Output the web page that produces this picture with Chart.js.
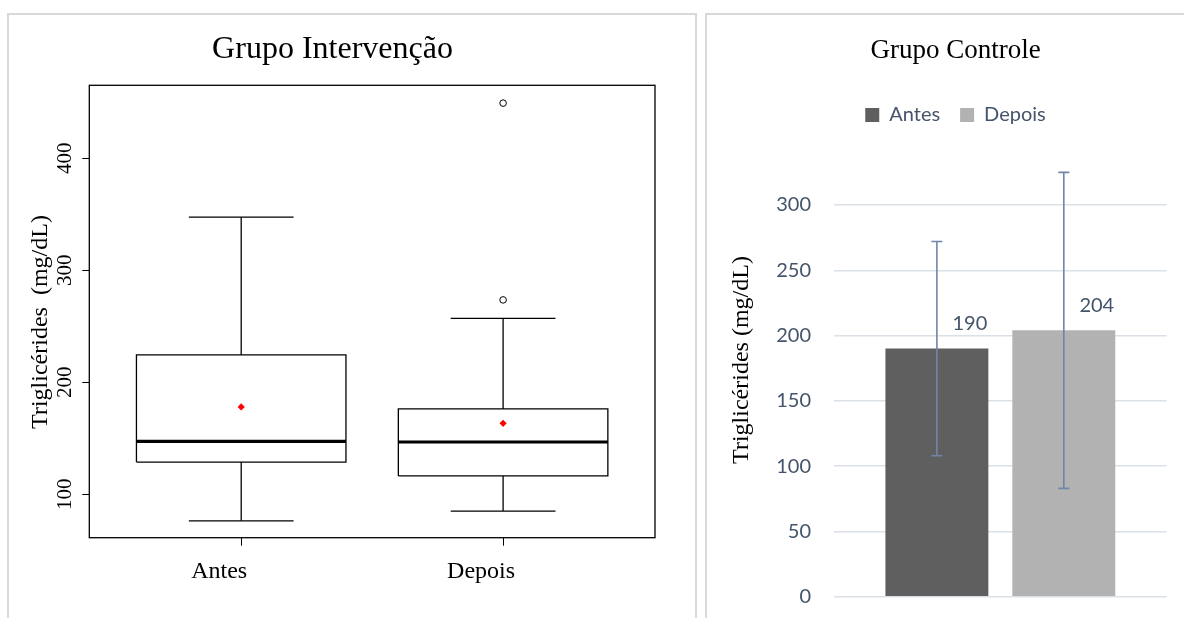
<!DOCTYPE html>
<html>
<head>
<meta charset="utf-8">
<script src="https://cdn.jsdelivr.net/npm/chart.js@4.4.1/dist/chart.umd.min.js"></script>
<style>
  html, body { margin: 0; padding: 0; background: #fff; }
  body { width: 1184px; height: 618px; position: relative; overflow: hidden; }
  .panel { position: absolute; top: 13px; height: 640px; border: 2px solid #d9d9d9; box-sizing: border-box; }
  #panelLeft { left: 7px; width: 690px; }
  #panelRight { left: 705px; width: 520px; }
  canvas { position: absolute; top: 0; }
  #boxChart { left: 0; }
  #barChart { left: 700px; }
</style>
</head>
<body>
<div class="panel" id="panelLeft"></div>
<div class="panel" id="panelRight"></div>
<canvas id="boxChart" width="700" height="618"></canvas>
<canvas id="barChart" width="484" height="618"></canvas>
<script>
const groups = ['Antes', 'Depois'];

// Grupo Intervenção - boxplot summary
const q1 = [128.8, 116.4];
const medians = [147.3, 146.7];
const q3 = [224.4, 176.2];
const whiskerLow = [76.4, 85.1];
const whiskerHigh = [347.3, 257.1];
const means = [178.0, 163.4];
const outliers = [[], [273.5, 449.1]];
const boxTicks = [100, 200, 300, 400];

// Grupo Controle - mean and sd
const controlMeans = [190, 204];
const controlSd = [82, 121];
const barColors = ['#5f5f5f', '#b2b2b2'];

const SERIF = '"Liberation Serif", "Times New Roman", serif';
const SANS = 'Lato, "Open Sans", sans-serif';
const BOX_HALF = 0.4;
const CAP_HALF = 0.2;

// rotated axis title drawn at a fixed spot
const sideTitle = {
  id: 'sideTitle',
  afterDraw(chart, args, opts) {
    const ctx = chart.ctx;
    ctx.save();
    ctx.translate(opts.x, opts.y);
    ctx.rotate(-Math.PI / 2);
    ctx.font = opts.font;
    ctx.fillStyle = opts.color;
    ctx.textAlign = 'center';
    ctx.textBaseline = 'middle';
    ctx.fillText(opts.text, 0, 0);
    ctx.restore();
  }
};

const frame = {
  id: 'frame',
  afterDatasetsDraw(chart) {
    const { ctx, chartArea: a } = chart;
    ctx.save();
    ctx.strokeStyle = '#000';
    ctx.lineWidth = 1.3;
    ctx.strokeRect(a.left, a.top, a.right - a.left, a.bottom - a.top);
    ctx.restore();
  }
};

function seg(points, width) {
  return {
    data: points, showLine: true, borderColor: '#000', borderWidth: width,
    pointRadius: 0, fill: false, tension: 0, borderJoinStyle: 'miter'
  };
}

const boxDatasets = [];
groups.forEach((g, i) => {
  const x = i + 1;
  boxDatasets.push(seg([
    { x: x - BOX_HALF, y: q1[i] }, { x: x + BOX_HALF, y: q1[i] },
    { x: x + BOX_HALF, y: q3[i] }, { x: x - BOX_HALF, y: q3[i] },
    { x: x - BOX_HALF, y: q1[i] }
  ], 1.3));
  boxDatasets.push(seg([{ x: x - BOX_HALF, y: medians[i] }, { x: x + BOX_HALF, y: medians[i] }], 3.2));
  boxDatasets.push(seg([{ x: x, y: q3[i] }, { x: x, y: whiskerHigh[i] }], 1.3));
  boxDatasets.push(seg([{ x: x, y: q1[i] }, { x: x, y: whiskerLow[i] }], 1.3));
  boxDatasets.push(seg([{ x: x - CAP_HALF, y: whiskerHigh[i] }, { x: x + CAP_HALF, y: whiskerHigh[i] }], 1.3));
  boxDatasets.push(seg([{ x: x - CAP_HALF, y: whiskerLow[i] }, { x: x + CAP_HALF, y: whiskerLow[i] }], 1.3));
});

boxDatasets.push({
  data: means.map((m, i) => ({ x: i + 1, y: m })),
  pointStyle: 'rectRot', pointRadius: 3.6,
  backgroundColor: '#ff0000', borderColor: '#ff0000', borderWidth: 0
});
boxDatasets.push({
  data: outliers.flatMap((list, i) => list.map(v => ({ x: i + 1, y: v }))),
  pointStyle: 'circle', pointRadius: 3.3,
  backgroundColor: '#fff', borderColor: '#000', borderWidth: 1
});

new Chart(document.getElementById('boxChart'), {
  type: 'scatter',
  data: { datasets: boxDatasets },
  options: {
    responsive: false,
    animation: false,
    layout: { padding: { left: 10, right: 45, top: 0, bottom: 0 } },
    plugins: {
      legend: { display: false },
      tooltip: { enabled: false },
      title: {
        display: true, text: 'Grupo Intervenção', color: '#000',
        font: { family: SERIF, size: 32, weight: 'normal' },
        padding: { top: 30.8, bottom: 16.1 }
      },
      sideTitle: { text: 'Triglicérides  (mg/dL)', x: 40.6, y: 322, font: '24px ' + SERIF, color: '#000' }
    },
    scales: {
      x: {
        type: 'linear', min: 0.42, max: 2.58,
        afterBuildTicks: s => { s.ticks = groups.map((g, i) => ({ value: i + 1 })); },
        afterFit: s => { s.height = 80.3; },
        grid: { drawOnChartArea: false, tickLength: 8, color: '#000' },
        border: { display: false },
        ticks: {
          callback: (v, i) => groups[i],
          labelOffset: -22, padding: 12, color: '#000', maxRotation: 0, autoSkip: false,
          font: { family: SERIF, size: 24 }
        }
      },
      y: {
        min: 61.3, max: 465,
        afterBuildTicks: s => { s.ticks = boxTicks.map(v => ({ value: v })); },
        afterFit: s => { s.width = 79.3; },
        grid: { drawOnChartArea: false, tickLength: 7, color: '#000' },
        border: { display: false },
        ticks: {
          minRotation: 90, maxRotation: 90, crossAlign: 'center', padding: 1.5,
          color: '#000', font: { family: SERIF, size: 21 }
        }
      }
    }
  },
  plugins: [frame, sideTitle]
});

const errorBars = {
  id: 'errorBars',
  afterDatasetsDraw(chart) {
    const ctx = chart.ctx;
    const y = chart.scales.y;
    ctx.save();
    chart.data.datasets.forEach((ds, i) => {
      const bar = chart.getDatasetMeta(i).data[0];
      const top = y.getPixelForValue(controlMeans[i] + controlSd[i]);
      const bot = y.getPixelForValue(controlMeans[i] - controlSd[i]);
      ctx.strokeStyle = '#7086a6';
      ctx.lineWidth = 1.6;
      ctx.beginPath();
      ctx.moveTo(bar.x, top); ctx.lineTo(bar.x, bot);
      ctx.moveTo(bar.x - 5.5, top); ctx.lineTo(bar.x + 5.5, top);
      ctx.moveTo(bar.x - 5.5, bot); ctx.lineTo(bar.x + 5.5, bot);
      ctx.stroke();
      ctx.fillStyle = '#44546a';
      ctx.font = '20px ' + SANS;
      ctx.textAlign = 'center';
      ctx.textBaseline = 'middle';
      ctx.fillText(String(controlMeans[i]), bar.x + 33, bar.y - 25);
    });
    ctx.restore();
  }
};

new Chart(document.getElementById('barChart'), {
  type: 'bar',
  data: {
    labels: [''],
    datasets: groups.map((g, i) => ({
      label: g,
      data: [controlMeans[i]],
      backgroundColor: barColors[i],
      categoryPercentage: 0.763,
      barPercentage: 0.811
    }))
  },
  options: {
    responsive: false,
    animation: false,
    layout: { padding: { left: 44.3, right: 17.3, top: 0, bottom: 21.3 } },
    plugins: {
      tooltip: { enabled: false },
      title: {
        display: true, text: 'Grupo Controle', color: '#000',
        font: { family: SERIF, size: 27, weight: 'normal' },
        padding: { top: 34.8, bottom: 17.8 }
      },
      legend: {
        display: true, position: 'top',
        labels: {
          boxWidth: 14, boxHeight: 14, padding: 20, color: '#44546a',
          font: { family: SANS, size: 20 }
        }
      },
      // empty spacer between legend and plot
      subtitle: {
        display: true, text: ' ', weight: 500,
        font: { size: 10 }, padding: { top: 0, bottom: 58 }
      },
      sideTitle: { text: 'Triglicérides (mg/dL)', x: 42, y: 360, font: '24px ' + SERIF, color: '#000' }
    },
    scales: {
      x: { display: false },
      y: {
        min: 0, max: 300,
        afterFit: s => { s.width = 89.7; },
        grid: { color: '#dce1e7', lineWidth: 1.5, drawTicks: true, tickLength: 23, tickColor: 'rgba(0,0,0,0)' },
        border: { display: false },
        ticks: { stepSize: 50, padding: 0, color: '#44546a', font: { family: SANS, size: 20 } }
      }
    }
  },
  plugins: [errorBars, sideTitle]
});
</script>
</body>
</html>
